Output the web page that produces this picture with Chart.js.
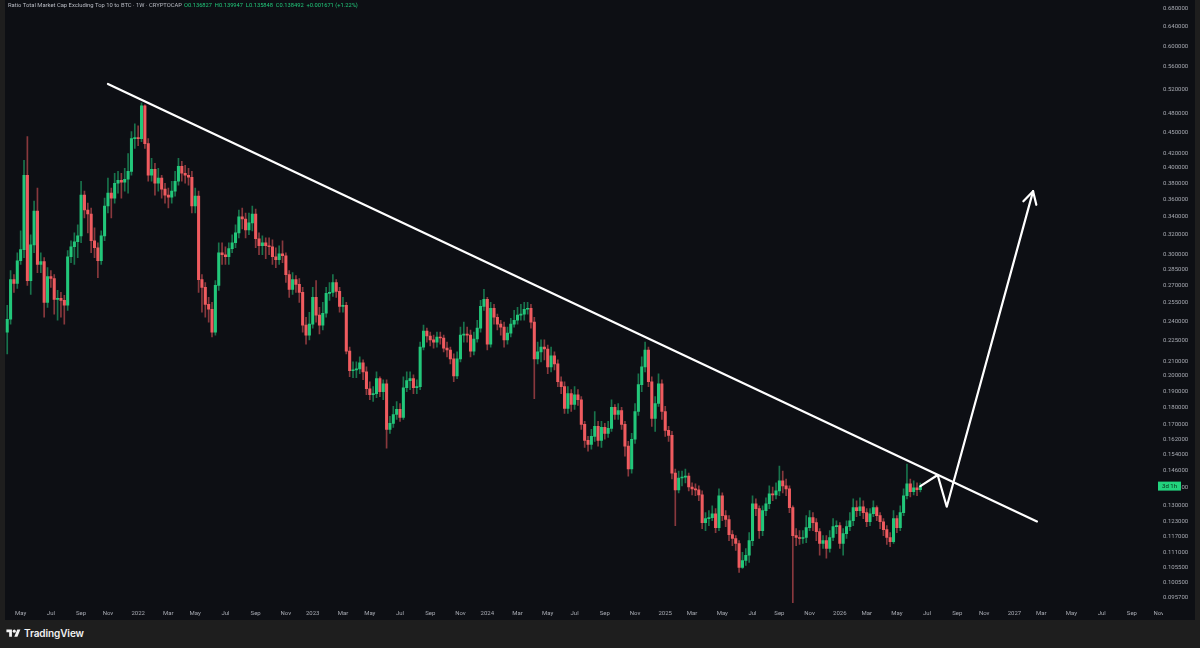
<!DOCTYPE html>
<html>
<head>
<meta charset="utf-8">
<title>Ratio Total Market Cap Excluding Top 10 to BTC</title>
<script src="https://cdn.jsdelivr.net/npm/chart.js@4.4.1/dist/chart.umd.min.js"></script>
<style>
  html, body { margin: 0; padding: 0; width: 1200px; height: 648px; overflow: hidden; background: #1e1e1e; }
  #chartBox { position: absolute; left: 5px; top: 0; width: 1190px; height: 620px; background: #0d0f14; }
  #footer { position: absolute; left: 6px; top: 626px; height: 14px; display: flex; align-items: center;
            color: #f2f2f2; font: 600 10px Inter, Roboto, sans-serif; letter-spacing: -0.1px; }
  #footer svg { margin-right: 3px; }
</style>
</head>
<body>
<div id="chartBox"><canvas id="myChart" width="1190" height="620"></canvas></div>
<div id="footer">
  <svg width="15" height="11" viewBox="0 0 36 28"><path d="M14 22H7V11H0V4h14v18zM28 22h-8l7.5-18h8L28 22z" fill="#f2f2f2"/><circle cx="20" cy="8" r="4" fill="#f2f2f2"/></svg>
  TradingView
</div>
<script>
// weekly candles, first bar week of 2021-04-05
const firstWeek = '2021-04-05';

const open = [
  0.2314, 0.2415, 0.2756, 0.2721, 0.2935, 0.3045, 0.3902, 0.2747, 0.3095, 0.3464,
  0.2898, 0.2926, 0.2555, 0.2784, 0.2766, 0.2581, 0.2589, 0.2572, 0.2530, 0.2974,
  0.3075, 0.3127, 0.3189, 0.3652, 0.3476, 0.3430, 0.3137, 0.3065, 0.2935, 0.3189,
  0.3522, 0.3676, 0.3616, 0.3800, 0.3838, 0.3813, 0.3851, 0.3954, 0.4408, 0.4423,
  0.4408, 0.4917, 0.4337, 0.3902, 0.3980, 0.3800, 0.3864, 0.3725, 0.3652, 0.3628,
  0.3701, 0.3825, 0.4020, 0.3928, 0.3902, 0.3876, 0.3522, 0.3640, 0.2756, 0.2685,
  0.2538, 0.2497, 0.2314, 0.2703, 0.3014, 0.2994, 0.2974, 0.3055, 0.3116, 0.3221,
  0.3396, 0.3373, 0.3253, 0.3329, 0.3430, 0.3158, 0.3085, 0.3116, 0.3085, 0.3075,
  0.2974, 0.2945, 0.3004, 0.2984, 0.2802, 0.2668, 0.2756, 0.2712, 0.2641, 0.2368,
  0.2291, 0.2376, 0.2598, 0.2448, 0.2368, 0.2464, 0.2632, 0.2641, 0.2730, 0.2650,
  0.2521, 0.2530, 0.2172, 0.2034, 0.2040, 0.2047, 0.2088, 0.2027, 0.1916, 0.1878,
  0.1885, 0.1981, 0.1897, 0.1948, 0.1673, 0.1707, 0.1758, 0.1788, 0.1741, 0.1922,
  0.1968, 0.1981, 0.1922, 0.1929, 0.2201, 0.2322, 0.2284, 0.2254, 0.2238, 0.2276,
  0.2269, 0.2194, 0.2180, 0.2116, 0.2000, 0.2116, 0.2291, 0.2299, 0.2291, 0.2172,
  0.2261, 0.2345, 0.2521, 0.2581, 0.2223, 0.2505, 0.2431, 0.2376, 0.2353, 0.2254,
  0.2306, 0.2376, 0.2407, 0.2448, 0.2456, 0.2497, 0.2505, 0.2392, 0.2116, 0.2166,
  0.2201, 0.2187, 0.2061, 0.2138, 0.2081, 0.1961, 0.1929, 0.1794, 0.1885, 0.1818,
  0.1878, 0.1847, 0.1701, 0.1613, 0.1592, 0.1635, 0.1690, 0.1613, 0.1684, 0.1651,
  0.1679, 0.1800, 0.1758, 0.1782, 0.1701, 0.1582, 0.1466, 0.1619, 0.1776, 0.1942,
  0.2061, 0.2180, 0.1961, 0.1735, 0.1824, 0.1948, 0.1776, 0.1668, 0.1640, 0.1446,
  0.1368, 0.1423, 0.1427, 0.1432, 0.1381, 0.1372, 0.1368, 0.1345, 0.1226, 0.1243,
  0.1247, 0.1263, 0.1206, 0.1341, 0.1255, 0.1239, 0.1178, 0.1163, 0.1144, 0.1056,
  0.1081, 0.1100, 0.1155, 0.1306, 0.1285, 0.1194, 0.1276, 0.1306, 0.1350, 0.1345,
  0.1363, 0.1409, 0.1386, 0.1372, 0.1289, 0.1174, 0.1167, 0.1163, 0.1167, 0.1206,
  0.1247, 0.1226, 0.1190, 0.1144, 0.1155, 0.1125, 0.1167, 0.1210, 0.1214, 0.1144,
  0.1182, 0.1210, 0.1234, 0.1289, 0.1276, 0.1293, 0.1268, 0.1230, 0.1263, 0.1289,
  0.1255, 0.1230, 0.1198, 0.1167, 0.1151, 0.1243, 0.1206, 0.1268, 0.1341, 0.1395,
  0.1359, 0.1377, 0.136827
];
const high = [
  0.2530, 0.2841, 0.2802, 0.3014, 0.3242, 0.4100, 0.4438, 0.3200, 0.3580, 0.3738,
  0.3014, 0.2965, 0.2869, 0.2841, 0.2802, 0.2659, 0.2641, 0.2615, 0.3035, 0.3137,
  0.3221, 0.3307, 0.3825, 0.3701, 0.3557, 0.3499, 0.3274, 0.3116, 0.3242, 0.3616,
  0.3864, 0.3738, 0.3928, 0.3954, 0.3928, 0.3993, 0.4196, 0.4512, 0.4633, 0.4602,
  0.4966, 0.4934, 0.4408, 0.4127, 0.4060, 0.3993, 0.3902, 0.3800, 0.3738, 0.3825,
  0.3954, 0.4127, 0.4086, 0.4033, 0.3993, 0.3954, 0.3738, 0.3701, 0.2802, 0.2730,
  0.2598, 0.2555, 0.2747, 0.3116, 0.3116, 0.3075, 0.3116, 0.3200, 0.3307, 0.3476,
  0.3499, 0.3441, 0.3441, 0.3522, 0.3487, 0.3221, 0.3189, 0.3168, 0.3168, 0.3147,
  0.3065, 0.3085, 0.3137, 0.3014, 0.2841, 0.2821, 0.2793, 0.2766, 0.2685, 0.2431,
  0.2472, 0.2685, 0.2747, 0.2513, 0.2555, 0.2685, 0.2730, 0.2802, 0.2756, 0.2685,
  0.2598, 0.2555, 0.2201, 0.2095, 0.2095, 0.2130, 0.2109, 0.2061, 0.1961, 0.1929,
  0.2027, 0.1994, 0.1974, 0.1974, 0.1747, 0.1806, 0.1836, 0.1824, 0.1994, 0.2027,
  0.2027, 0.2007, 0.1974, 0.2238, 0.2368, 0.2345, 0.2314, 0.2291, 0.2314, 0.2314,
  0.2291, 0.2238, 0.2201, 0.2152, 0.2166, 0.2353, 0.2392, 0.2353, 0.2330, 0.2314,
  0.2407, 0.2572, 0.2668, 0.2598, 0.2555, 0.2538, 0.2456, 0.2407, 0.2392, 0.2353,
  0.2423, 0.2488, 0.2513, 0.2538, 0.2555, 0.2555, 0.2538, 0.2431, 0.2238, 0.2254,
  0.2254, 0.2216, 0.2201, 0.2166, 0.2109, 0.1994, 0.1961, 0.1929, 0.1910, 0.1929,
  0.1910, 0.1866, 0.1718, 0.1635, 0.1673, 0.1776, 0.1718, 0.1718, 0.1707, 0.1718,
  0.1847, 0.1818, 0.1824, 0.1800, 0.1718, 0.1608, 0.1651, 0.1824, 0.2014, 0.2130,
  0.2238, 0.2201, 0.1994, 0.1866, 0.2014, 0.1974, 0.1806, 0.1690, 0.1662, 0.1466,
  0.1456, 0.1456, 0.1466, 0.1446, 0.1400, 0.1395, 0.1386, 0.1363, 0.1268, 0.1276,
  0.1297, 0.1285, 0.1372, 0.1354, 0.1276, 0.1255, 0.1194, 0.1174, 0.1155, 0.1111,
  0.1125, 0.1186, 0.1341, 0.1327, 0.1297, 0.1297, 0.1332, 0.1386, 0.1381, 0.1400,
  0.1480, 0.1456, 0.1418, 0.1386, 0.1297, 0.1202, 0.1194, 0.1194, 0.1255, 0.1276,
  0.1268, 0.1243, 0.1202, 0.1174, 0.1174, 0.1194, 0.1243, 0.1234, 0.1226, 0.1202,
  0.1234, 0.1268, 0.1327, 0.1319, 0.1332, 0.1319, 0.1285, 0.1285, 0.1319, 0.1297,
  0.1268, 0.1243, 0.1214, 0.1186, 0.1276, 0.1255, 0.1297, 0.1372, 0.1490, 0.1418,
  0.1409, 0.1400, 0.139947
];
const low = [
  0.2152, 0.2376, 0.2641, 0.2676, 0.2898, 0.2965, 0.2703, 0.2624, 0.3014, 0.2821,
  0.2821, 0.2431, 0.2513, 0.2685, 0.2456, 0.2407, 0.2431, 0.2376, 0.2488, 0.2917,
  0.2898, 0.2965, 0.3116, 0.3385, 0.3221, 0.3014, 0.2965, 0.2775, 0.2898, 0.3137,
  0.3441, 0.3385, 0.3557, 0.3676, 0.3616, 0.3701, 0.3676, 0.3902, 0.4266, 0.4308,
  0.4365, 0.4266, 0.3825, 0.3825, 0.3652, 0.3701, 0.3616, 0.3557, 0.3499, 0.3557,
  0.3640, 0.3775, 0.3825, 0.3800, 0.3775, 0.3441, 0.3441, 0.2641, 0.2472, 0.2431,
  0.2392, 0.2276, 0.2291, 0.2659, 0.2898, 0.2898, 0.2898, 0.3014, 0.3065, 0.3168,
  0.3264, 0.3168, 0.3200, 0.3242, 0.3065, 0.2994, 0.2994, 0.2955, 0.2994, 0.2898,
  0.2869, 0.2898, 0.2917, 0.2730, 0.2598, 0.2624, 0.2641, 0.2555, 0.2314, 0.2223,
  0.2254, 0.2345, 0.2392, 0.2299, 0.2330, 0.2431, 0.2572, 0.2606, 0.2598, 0.2472,
  0.2472, 0.2152, 0.1994, 0.1987, 0.1987, 0.2014, 0.1974, 0.1878, 0.1847, 0.1836,
  0.1860, 0.1866, 0.1847, 0.1571, 0.1651, 0.1684, 0.1730, 0.1718, 0.1730, 0.1897,
  0.1910, 0.1885, 0.1885, 0.1910, 0.2180, 0.2238, 0.2209, 0.2194, 0.2201, 0.2223,
  0.2166, 0.2130, 0.2081, 0.1961, 0.1981, 0.2095, 0.2238, 0.2238, 0.2130, 0.2145,
  0.2238, 0.2314, 0.2488, 0.2180, 0.2201, 0.2376, 0.2330, 0.2291, 0.2201, 0.2223,
  0.2276, 0.2353, 0.2376, 0.2407, 0.2407, 0.2456, 0.2345, 0.1854, 0.2081, 0.2095,
  0.2109, 0.2014, 0.2027, 0.2040, 0.1929, 0.1885, 0.1764, 0.1764, 0.1776, 0.1788,
  0.1812, 0.1673, 0.1576, 0.1556, 0.1566, 0.1608, 0.1582, 0.1576, 0.1619, 0.1629,
  0.1662, 0.1730, 0.1730, 0.1673, 0.1530, 0.1432, 0.1446, 0.1597, 0.1753, 0.1897,
  0.2027, 0.1929, 0.1690, 0.1662, 0.1806, 0.1730, 0.1635, 0.1608, 0.1418, 0.1214,
  0.1354, 0.1386, 0.1400, 0.1363, 0.1345, 0.1341, 0.1319, 0.1202, 0.1194, 0.1214,
  0.1234, 0.1186, 0.1194, 0.1234, 0.1210, 0.1155, 0.1136, 0.1118, 0.1039, 0.1053,
  0.1063, 0.1074, 0.1136, 0.1255, 0.1163, 0.1174, 0.1255, 0.1285, 0.1319, 0.1327,
  0.1341, 0.1354, 0.1341, 0.1268, 0.0935, 0.1136, 0.1140, 0.1144, 0.1147, 0.1194,
  0.1194, 0.1155, 0.1100, 0.1125, 0.1089, 0.1111, 0.1155, 0.1182, 0.1125, 0.1100,
  0.1163, 0.1194, 0.1214, 0.1251, 0.1255, 0.1243, 0.1210, 0.1214, 0.1251, 0.1234,
  0.1202, 0.1174, 0.1140, 0.1132, 0.1144, 0.1186, 0.1194, 0.1255, 0.1327, 0.1336,
  0.1345, 0.1341, 0.135848
];
const close = [
  0.2415, 0.2756, 0.2721, 0.2935, 0.3045, 0.3902, 0.2747, 0.3095, 0.3464, 0.2898,
  0.2926, 0.2555, 0.2784, 0.2766, 0.2581, 0.2589, 0.2572, 0.2530, 0.2974, 0.3075,
  0.3127, 0.3189, 0.3652, 0.3476, 0.3430, 0.3137, 0.3065, 0.2935, 0.3189, 0.3522,
  0.3676, 0.3616, 0.3800, 0.3838, 0.3813, 0.3851, 0.3954, 0.4408, 0.4423, 0.4408,
  0.4917, 0.4337, 0.3902, 0.3980, 0.3800, 0.3864, 0.3725, 0.3652, 0.3628, 0.3701,
  0.3825, 0.4020, 0.3928, 0.3902, 0.3876, 0.3522, 0.3640, 0.2756, 0.2685, 0.2538,
  0.2497, 0.2314, 0.2703, 0.3014, 0.2994, 0.2974, 0.3055, 0.3116, 0.3221, 0.3396,
  0.3373, 0.3253, 0.3329, 0.3430, 0.3158, 0.3085, 0.3116, 0.3085, 0.3075, 0.2974,
  0.2945, 0.3004, 0.2984, 0.2802, 0.2668, 0.2756, 0.2712, 0.2641, 0.2368, 0.2291,
  0.2376, 0.2598, 0.2448, 0.2368, 0.2464, 0.2632, 0.2641, 0.2730, 0.2650, 0.2521,
  0.2530, 0.2172, 0.2034, 0.2040, 0.2047, 0.2088, 0.2027, 0.1916, 0.1878, 0.1885,
  0.1981, 0.1897, 0.1948, 0.1673, 0.1707, 0.1758, 0.1788, 0.1741, 0.1922, 0.1968,
  0.1981, 0.1922, 0.1929, 0.2201, 0.2322, 0.2284, 0.2254, 0.2238, 0.2276, 0.2269,
  0.2194, 0.2180, 0.2116, 0.2000, 0.2116, 0.2291, 0.2299, 0.2291, 0.2172, 0.2261,
  0.2345, 0.2521, 0.2581, 0.2223, 0.2505, 0.2431, 0.2376, 0.2353, 0.2254, 0.2306,
  0.2376, 0.2407, 0.2448, 0.2456, 0.2497, 0.2505, 0.2392, 0.2116, 0.2166, 0.2201,
  0.2187, 0.2061, 0.2138, 0.2081, 0.1961, 0.1929, 0.1794, 0.1885, 0.1818, 0.1878,
  0.1847, 0.1701, 0.1613, 0.1592, 0.1635, 0.1690, 0.1613, 0.1684, 0.1651, 0.1679,
  0.1800, 0.1758, 0.1782, 0.1701, 0.1582, 0.1466, 0.1619, 0.1776, 0.1942, 0.2061,
  0.2180, 0.1961, 0.1735, 0.1824, 0.1948, 0.1776, 0.1668, 0.1640, 0.1446, 0.1368,
  0.1423, 0.1427, 0.1432, 0.1381, 0.1372, 0.1368, 0.1345, 0.1226, 0.1243, 0.1247,
  0.1263, 0.1206, 0.1341, 0.1255, 0.1239, 0.1178, 0.1163, 0.1144, 0.1056, 0.1081,
  0.1100, 0.1155, 0.1306, 0.1285, 0.1194, 0.1276, 0.1306, 0.1350, 0.1345, 0.1363,
  0.1409, 0.1386, 0.1372, 0.1289, 0.1174, 0.1167, 0.1163, 0.1167, 0.1206, 0.1247,
  0.1226, 0.1190, 0.1144, 0.1155, 0.1125, 0.1167, 0.1210, 0.1214, 0.1144, 0.1182,
  0.1210, 0.1234, 0.1289, 0.1276, 0.1293, 0.1268, 0.1230, 0.1263, 0.1289, 0.1255,
  0.1230, 0.1198, 0.1167, 0.1151, 0.1243, 0.1206, 0.1268, 0.1341, 0.1395, 0.1359,
  0.1377, 0.136827, 0.138492
];

const priceTicks = [0.68, 0.64, 0.60, 0.56, 0.52, 0.48, 0.45, 0.42, 0.40, 0.38, 0.36, 0.34,
  0.32, 0.30, 0.285, 0.27, 0.255, 0.24, 0.225, 0.21, 0.20, 0.19, 0.18, 0.17, 0.162, 0.154,
  0.146, 0.138, 0.13, 0.123, 0.117, 0.111, 0.1055, 0.1005, 0.0957];
const timeTicks = ['2021-05','2021-07','2021-09','2021-11','2022-01','2022-03','2022-05','2022-07',
  '2022-09','2022-11','2023-01','2023-03','2023-05','2023-07','2023-09','2023-11','2024-01','2024-03',
  '2024-05','2024-07','2024-09','2024-11','2025-01','2025-03','2025-05','2025-07','2025-09','2025-11',
  '2026-01','2026-03','2026-05','2026-07','2026-09','2026-11','2027-01','2027-03','2027-05','2027-07',
  '2027-09','2027-11'];
const timeLabels = ['May','Jul','Sep','Nov','2022','Mar','May','Jul','Sep','Nov','2023','Mar','May','Jul',
  'Sep','Nov','2024','Mar','May','Jul','Sep','Nov','2025','Mar','May','Jul','Sep','Nov','2026','Mar',
  'May','Jul','Sep','Nov','2027','Mar','May','Jul','Sep','Nov'];

const legendName = 'Ratio Total Market Cap Excluding Top 10 to BTC \u00b7 1W \u00b7 CRYPTOCAP';
const legendValues = 'O0.136827  H0.139947  L0.135848  C0.138492  +0.001671 (+1.22%)';
const countdown = '3d 1h';

// hand drawn lines: [date, value]
const trendLine = [['2021-11-01', 0.5289], ['2027-02-20', 0.1231]];
const projection = [['2026-06-22', 0.1385], ['2026-07-28', 0.1437], ['2026-08-16', 0.1293], ['2027-02-12', 0.3701]];

const upColor = '#22c77a';
const downColor = '#ef5b5f';
const upWick = 'rgba(34,199,122,0.55)';
const downWick = 'rgba(239,91,95,0.55)';
const textColor = '#a7aab2';
const paneColor = '#0d0f14';

// x axis = days from 2022-01-01
const epoch = Date.UTC(2022, 0, 1);
function toDay(s) {
  const p = s.split('-').map(Number);
  return (Date.UTC(p[0], p[1] - 1, p[2] || 1) - epoch) / 86400000;
}
const startDay = toDay(firstWeek);
const barDay = close.map((c, i) => startDay + 7 * i);
const isUp = close.map((c, i) => c >= open[i]);
// TradingView puts the month label on the first weekly bar of the month
const tickDays = timeTicks.map(m => {
  const d = toDay(m + '-01');
  return startDay + Math.ceil((d - startDay) / 7) * 7;
});

const drawings = {
  id: 'drawings',
  afterDatasetsDraw(chart) {
    const { ctx, chartArea, scales: { x, y } } = chart;
    const pt = ([d, v]) => [x.getPixelForValue(toDay(d)), y.getPixelForValue(v)];
    ctx.save();
    ctx.beginPath();
    ctx.rect(chartArea.left, chartArea.top, chartArea.width, chartArea.height);
    ctx.clip();
    ctx.strokeStyle = '#ffffff';
    ctx.lineWidth = 2.2;
    ctx.lineCap = 'round';
    ctx.lineJoin = 'round';

    ctx.beginPath();
    trendLine.map(pt).forEach(([px, py], i) => i ? ctx.lineTo(px, py) : ctx.moveTo(px, py));
    ctx.stroke();

    const pts = projection.map(pt);
    ctx.beginPath();
    pts.forEach(([px, py], i) => i ? ctx.lineTo(px, py) : ctx.moveTo(px, py));
    ctx.stroke();

    // arrow head
    const [tx, ty] = pts[pts.length - 1];
    const [sx, sy] = pts[pts.length - 2];
    const ang = Math.atan2(ty - sy, tx - sx);
    ctx.beginPath();
    ctx.moveTo(tx - 14 * Math.cos(ang - 0.5), ty - 14 * Math.sin(ang - 0.5));
    ctx.lineTo(tx, ty);
    ctx.lineTo(tx - 14 * Math.cos(ang + 0.5), ty - 14 * Math.sin(ang + 0.5));
    ctx.stroke();
    ctx.restore();
  },
  afterDraw(chart) {
    const { ctx, chartArea, width, height, scales: { y } } = chart;
    ctx.save();
    // the time scale is cut where the price scale starts
    ctx.fillStyle = paneColor;
    ctx.fillRect(chartArea.right + 1, chartArea.bottom, width - chartArea.right, height - chartArea.bottom);

    // legend line
    ctx.textBaseline = 'middle';
    ctx.font = '6px Roboto';
    let w = ctx.measureText(legendName).width;
    ctx.font = (6 * 174 / w).toFixed(2) + 'px Roboto';
    ctx.fillStyle = '#b8bbc3';
    ctx.fillText(legendName, 3, 5.5);
    ctx.font = '6px Roboto';
    w = ctx.measureText(legendValues).width;
    ctx.font = (6 * 174 / w).toFixed(2) + 'px Roboto';
    ctx.fillStyle = upColor;
    ctx.fillText(legendValues, 179, 5.5);

    // countdown tag on the price scale
    const py = y.getPixelForValue(close[close.length - 1]);
    ctx.fillStyle = '#22d37e';
    ctx.fillRect(chartArea.right - 4, py - 4.5, 23, 9);
    ctx.fillStyle = '#0a2a18';
    ctx.font = '6px Roboto';
    ctx.textAlign = 'center';
    ctx.fillText(countdown, chartArea.right + 7.5, py + 0.5);
    ctx.restore();
  }
};

const ctx = document.getElementById('myChart');

new Chart(ctx, {
  type: 'bar',
  data: {
    datasets: [{
      label: 'wicks',
      data: barDay.map((d, i) => ({ x: d, y: [low[i], high[i]] })),
      backgroundColor: isUp.map(u => u ? upWick : downWick),
      barThickness: 1,
      grouped: false,
      order: 2
    }, {
      label: 'bodies',
      data: barDay.map((d, i) => ({ x: d, y: [open[i], close[i]] })),
      backgroundColor: isUp.map(u => u ? upColor : downColor),
      barThickness: 2.4,
      minBarLength: 1,
      grouped: false,
      order: 1
    }]
  },
  options: {
    responsive: false,
    animation: false,
    layout: { padding: 0 },
    scales: {
      x: {
        type: 'linear',
        offset: false,
        min: -275.65,
        max: 2136.8,
        grid: { display: false, drawTicks: false },
        border: { display: false },
        afterBuildTicks: s => { s.ticks = tickDays.map(v => ({ value: v })); },
        afterFit: s => { s.height = 17; },
        ticks: {
          autoSkip: false,
          maxRotation: 0,
          padding: 7,
          color: textColor,
          font: { size: 6, family: 'Roboto' },
          callback: (v, i) => timeLabels[i]
        }
      },
      y: {
        type: 'logarithmic',
        position: 'right',
        min: 0.093813,
        max: 0.6891,
        grid: { display: false, drawTicks: false },
        border: { display: false },
        afterBuildTicks: s => { s.ticks = priceTicks.map(v => ({ value: v })); },
        afterFit: s => { s.width = 33; },
        ticks: {
          padding: 1,
          color: textColor,
          font: { size: 6, family: 'Roboto' },
          callback: v => Number(v).toFixed(6)
        }
      }
    },
    plugins: {
      legend: { display: false },
      tooltip: { enabled: false }
    }
  },
  plugins: [drawings]
});
</script>
</body>
</html>
